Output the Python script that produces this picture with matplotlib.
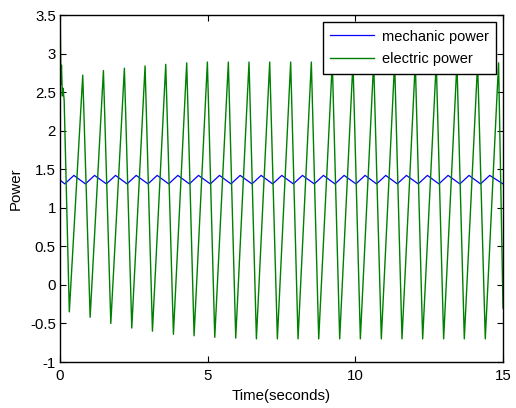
'''Mechanic vs electric power oscillation'''

import matplotlib
matplotlib.use('Agg')
import matplotlib.pyplot as plt

plt.rcParams['font.family'] = ['Liberation Sans', 'DejaVu Sans']

# electric power: start transient, then alternating troughs / peaks
start_t = [0.0, 0.01, 0.03, 0.05, 0.08, 0.10, 0.14]
start_p = [1.55, 3.40, 2.60, 2.85, 2.45, 2.55, 2.40]

trough_t = [0.315, 1.02, 1.72, 2.43, 3.13, 3.84, 4.54, 5.24, 5.95, 6.65, 7.36,
            8.06, 8.76, 9.47, 10.17, 10.88, 11.58, 12.28, 12.99, 13.69, 14.40]
trough_p = [-0.35, -0.42, -0.50, -0.56, -0.60, -0.64, -0.66, -0.68, -0.69, -0.70, -0.70,
            -0.70, -0.70, -0.70, -0.70, -0.70, -0.70, -0.70, -0.70, -0.70, -0.70]
peak_t = [0.77, 1.47, 2.18, 2.88, 3.58, 4.29, 4.99, 5.70, 6.40, 7.10, 7.81,
          8.51, 9.22, 9.92, 10.62, 11.33, 12.03, 12.74, 13.44, 14.14, 14.85]
peak_p = [2.72, 2.78, 2.81, 2.84, 2.86, 2.88, 2.89, 2.89, 2.89, 2.89, 2.89,
          2.89, 2.89, 2.89, 2.89, 2.89, 2.89, 2.89, 2.88, 2.88, 2.88]
end_t, end_p = 15.0, -0.30

# mechanic power: small triangular ripple
mech_trough_t = [0.16, 0.86, 1.57, 2.27, 2.98, 3.68, 4.38, 5.09, 5.79, 6.50, 7.20,
                 7.90, 8.61, 9.31, 10.02, 10.72, 11.42, 12.13, 12.83, 13.54, 14.24]
mech_peak_t = [0.47, 1.17, 1.88, 2.58, 3.29, 3.99, 4.69, 5.40, 6.10, 6.81, 7.51,
               8.21, 8.92, 9.62, 10.33, 11.03, 11.73, 12.44, 13.14, 13.85, 14.55]
mech_low, mech_high = 1.31, 1.42
mech_start, mech_end = 1.36, 1.31

x_ticks = [0, 5, 10, 15]
y_ticks = [-1, -0.5, 0, 0.5, 1, 1.5, 2, 2.5, 3, 3.5]
y_labels = ['-1', '-0.5', '0', '0.5', '1', '1.5', '2', '2.5', '3', '3.5']

# build polylines
elec_t = list(start_t)
elec_p = list(start_p)
for tt, pt, tp, pp in zip(trough_t, trough_p, peak_t, peak_p):
    elec_t += [tt, tp]
    elec_p += [pt, pp]
elec_t.append(end_t)
elec_p.append(end_p)

mech_t = [0.0]
mech_p = [mech_start]
for tt, tp in zip(mech_trough_t, mech_peak_t):
    mech_t += [tt, tp]
    mech_p += [mech_low, mech_high]
mech_t.append(15.0)
mech_p.append(mech_end)

fig = plt.figure(figsize=(5.16, 4.08), dpi=100)
ax = fig.add_axes([0.1163, 0.1127, 0.8585, 0.8505])

ax.plot(mech_t, mech_p, color='#0000ff', lw=0.9, label='mechanic power')
ax.plot(elec_t, elec_p, color='#008000', lw=1.0, label='electric power')

ax.set_xlim(0, 15)
ax.set_ylim(-1, 3.5)
ax.set_xticks(x_ticks)
ax.set_yticks(y_ticks)
ax.set_yticklabels(y_labels)
ax.tick_params(direction='in', top=True, right=True, length=4, width=0.8,
               labelsize=10.8)
ax.tick_params(axis='x', pad=5)
ax.tick_params(axis='y', pad=3)
for s in ax.spines.values():
    s.set_linewidth(1.0)

ax.set_xlabel('Time(seconds)', fontsize=10.8, labelpad=4)
ax.set_ylabel('Power', fontsize=10.8, labelpad=5)

leg = ax.legend(loc='upper right', fontsize=10.5, fancybox=False, framealpha=1,
                edgecolor='black', handlelength=3.0, handletextpad=0.5,
                borderaxespad=0.5, labelspacing=0.6, borderpad=0.5)
leg.get_frame().set_linewidth(1.0)

fig.savefig('out.png', dpi=100)
